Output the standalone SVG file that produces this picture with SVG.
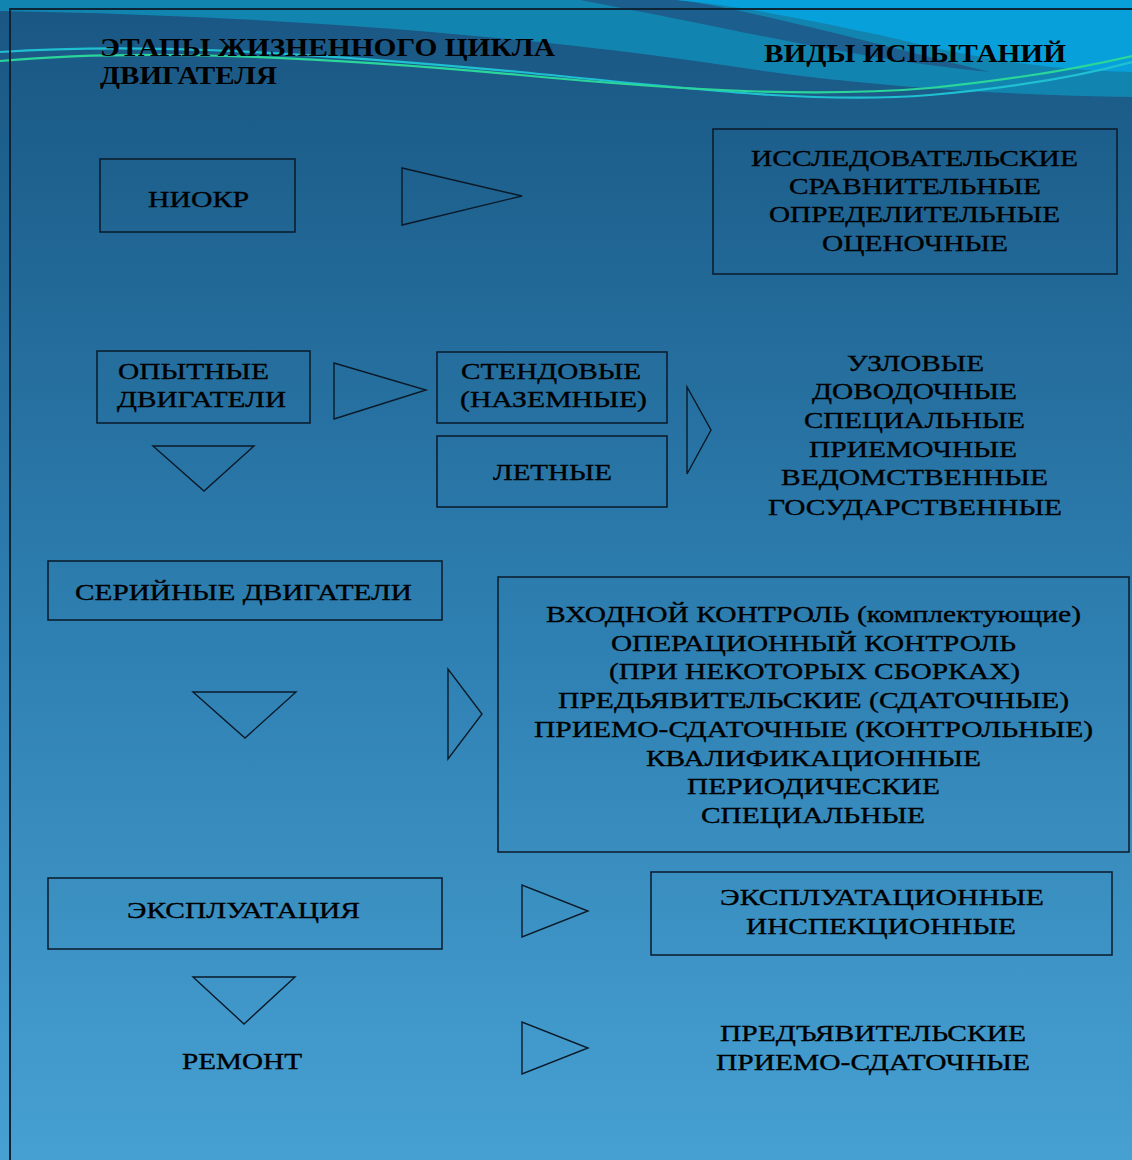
<svg xmlns="http://www.w3.org/2000/svg" width="1132" height="1160" viewBox="0 0 1132 1160">
<defs>
<linearGradient id="bg" x1="0" y1="0" x2="0" y2="1">
<stop offset="0" stop-color="#1a5683"/>
<stop offset="0.12" stop-color="#1d5f8c"/>
<stop offset="0.5" stop-color="#2c7cae"/>
<stop offset="1" stop-color="#47a0d2"/>
</linearGradient>
<style>
.box{fill:none;stroke:#0a1a28;stroke-width:1.5}
.tri{fill:none;stroke:#0a1a28;stroke-width:1.4;stroke-linejoin:miter}
.t{font-family:"Liberation Serif","Times New Roman",serif;font-size:24px;fill:#000;stroke:#000;stroke-width:0.35}
.h{font-family:"Liberation Serif","Times New Roman",serif;font-size:25px;font-weight:bold;fill:#000}
</style>
</defs>
<rect x="0" y="0" width="1132" height="1160" fill="url(#bg)"/>
<g id="waves">
<path d="M0,0 L1132,0 L1132,97 C1000,95 860,86 730,66 C560,40 300,16 0,11 Z" fill="#1185b0"/>
<path d="M580,0 L680,0 C760,12 860,40 990,72 C860,60 740,30 580,0 Z" fill="#1c5f8e"/>
<path d="M676,0 L1132,0 L1132,72 C1030,70 950,52 880,35 C800,18 740,6 676,0 Z" fill="#08a0da"/>
<path d="M0,52 C120,44 260,48 520,72 C700,90 820,104 930,95 C1010,88 1080,76 1132,62" fill="none" stroke="#1fc0d2" stroke-width="2.2"/>
<path d="M0,61 C100,52 250,50 520,75 C700,92 820,97 930,88 C1010,80 1080,68 1132,56" fill="none" stroke="#2ad69a" stroke-width="2.2"/>
</g>
<g id="frame">
<path d="M1132,9 L10,9 L10,1160" fill="none" stroke="#0b2436" stroke-width="2"/>
</g>
<g id="headers">
<text class="h" x="100" y="56" textLength="455" lengthAdjust="spacingAndGlyphs">ЭТАПЫ ЖИЗНЕННОГО ЦИКЛА</text>
<text class="h" x="100" y="84" textLength="177" lengthAdjust="spacingAndGlyphs">ДВИГАТЕЛЯ</text>
<text class="h" x="764" y="62" textLength="302" lengthAdjust="spacingAndGlyphs">ВИДЫ ИСПЫТАНИЙ</text>
</g>
<g id="connectors">
<polygon class="tri" points="402,168 402,225 522,196"/>
<polygon class="tri" points="334,363 334,419 426,390"/>
<polygon class="tri" points="153,446 254,446 204,491"/>
<polygon class="tri" points="687,387 687,474 711,430"/>
<polygon class="tri" points="193,692 296,692 245,738"/>
<polygon class="tri" points="448,669 448,759 482,714"/>
<polygon class="tri" points="522,885 522,937 588,911"/>
<polygon class="tri" points="193,977 295,977 244,1024"/>
<polygon class="tri" points="522,1022 522,1074 588,1048"/>
</g>
<g id="niokr">
<rect class="box" x="100" y="159" width="195" height="73"/>
<text class="t" x="148" y="207" textLength="101" lengthAdjust="spacingAndGlyphs">НИОКР</text>
</g>
<g id="tests-niokr">
<rect class="box" x="713" y="129" width="404" height="145"/>
<text class="t" x="751" y="166" textLength="327" lengthAdjust="spacingAndGlyphs">ИССЛЕДОВАТЕЛЬСКИЕ</text>
<text class="t" x="789" y="194" textLength="252" lengthAdjust="spacingAndGlyphs">СРАВНИТЕЛЬНЫЕ</text>
<text class="t" x="769" y="222" textLength="291" lengthAdjust="spacingAndGlyphs">ОПРЕДЕЛИТЕЛЬНЫЕ</text>
<text class="t" x="822" y="251" textLength="186" lengthAdjust="spacingAndGlyphs">ОЦЕНОЧНЫЕ</text>
</g>
<g id="prototype">
<rect class="box" x="97" y="351" width="213" height="72"/>
<text class="t" x="118" y="379" textLength="151" lengthAdjust="spacingAndGlyphs">ОПЫТНЫЕ</text>
<text class="t" x="117" y="407" textLength="169" lengthAdjust="spacingAndGlyphs">ДВИГАТЕЛИ</text>
</g>
<g id="bench">
<rect class="box" x="437" y="352" width="230" height="71"/>
<text class="t" x="461" y="379" textLength="180" lengthAdjust="spacingAndGlyphs">СТЕНДОВЫЕ</text>
<text class="t" x="460" y="407" textLength="187" lengthAdjust="spacingAndGlyphs">(НАЗЕМНЫЕ)</text>
</g>
<g id="flight">
<rect class="box" x="437" y="436" width="230" height="71"/>
<text class="t" x="493" y="480" textLength="119" lengthAdjust="spacingAndGlyphs">ЛЕТНЫЕ</text>
</g>
<g id="tests-prototype">
<text class="t" x="847" y="371" textLength="137" lengthAdjust="spacingAndGlyphs">УЗЛОВЫЕ</text>
<text class="t" x="812" y="399" textLength="205" lengthAdjust="spacingAndGlyphs">ДОВОДОЧНЫЕ</text>
<text class="t" x="804" y="428" textLength="221" lengthAdjust="spacingAndGlyphs">СПЕЦИАЛЬНЫЕ</text>
<text class="t" x="809" y="457" textLength="208" lengthAdjust="spacingAndGlyphs">ПРИЕМОЧНЫЕ</text>
<text class="t" x="781" y="485" textLength="267" lengthAdjust="spacingAndGlyphs">ВЕДОМСТВЕННЫЕ</text>
<text class="t" x="768" y="515" textLength="294" lengthAdjust="spacingAndGlyphs">ГОСУДАРСТВЕННЫЕ</text>
</g>
<g id="serial">
<rect class="box" x="48" y="561" width="394" height="59"/>
<text class="t" x="75" y="600" textLength="337" lengthAdjust="spacingAndGlyphs">СЕРИЙНЫЕ ДВИГАТЕЛИ</text>
</g>
<g id="tests-serial">
<rect class="box" x="498" y="577" width="631" height="275"/>
<text class="t" x="546" y="622" textLength="535" lengthAdjust="spacingAndGlyphs">ВХОДНОЙ КОНТРОЛЬ (комплектующие)</text>
<text class="t" x="611" y="651" textLength="405" lengthAdjust="spacingAndGlyphs">ОПЕРАЦИОННЫЙ КОНТРОЛЬ</text>
<text class="t" x="609" y="679" textLength="411" lengthAdjust="spacingAndGlyphs">(ПРИ НЕКОТОРЫХ СБОРКАХ)</text>
<text class="t" x="558" y="708" textLength="511" lengthAdjust="spacingAndGlyphs">ПРЕДЬЯВИТЕЛЬСКИЕ (СДАТОЧНЫЕ)</text>
<text class="t" x="534" y="737" textLength="559" lengthAdjust="spacingAndGlyphs">ПРИЕМО-СДАТОЧНЫЕ (КОНТРОЛЬНЫЕ)</text>
<text class="t" x="646" y="766" textLength="335" lengthAdjust="spacingAndGlyphs">КВАЛИФИКАЦИОННЫЕ</text>
<text class="t" x="687" y="794" textLength="253" lengthAdjust="spacingAndGlyphs">ПЕРИОДИЧЕСКИЕ</text>
<text class="t" x="701" y="823" textLength="224" lengthAdjust="spacingAndGlyphs">СПЕЦИАЛЬНЫЕ</text>
</g>
<g id="operation">
<rect class="box" x="48" y="878" width="394" height="71"/>
<text class="t" x="127" y="918" textLength="233" lengthAdjust="spacingAndGlyphs">ЭКСПЛУАТАЦИЯ</text>
</g>
<g id="tests-operation">
<rect class="box" x="651" y="872" width="461" height="83"/>
<text class="t" x="720" y="905" textLength="324" lengthAdjust="spacingAndGlyphs">ЭКСПЛУАТАЦИОННЫЕ</text>
<text class="t" x="746" y="934" textLength="270" lengthAdjust="spacingAndGlyphs">ИНСПЕКЦИОННЫЕ</text>
</g>
<g id="repair">
<text class="t" x="182" y="1069" textLength="120" lengthAdjust="spacingAndGlyphs">РЕМОНТ</text>
</g>
<g id="tests-repair">
<text class="t" x="720" y="1041" textLength="306" lengthAdjust="spacingAndGlyphs">ПРЕДЪЯВИТЕЛЬСКИЕ</text>
<text class="t" x="716" y="1070" textLength="314" lengthAdjust="spacingAndGlyphs">ПРИЕМО-СДАТОЧНЫЕ</text>
</g>
</svg>
